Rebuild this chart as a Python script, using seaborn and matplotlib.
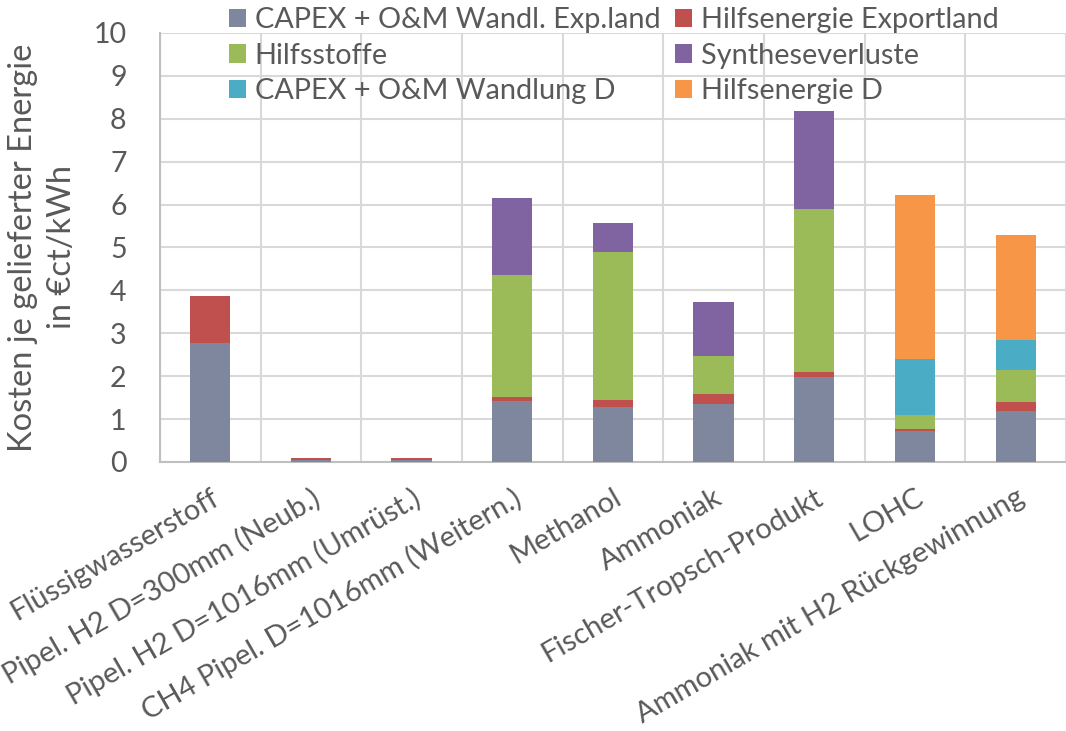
import numpy as np
import pandas as pd
import matplotlib
matplotlib.use("Agg")
import matplotlib.pyplot as plt
from matplotlib.patches import Patch
import seaborn as sns

categories = [
    "Flüssigwasserstoff",
    "Pipel. H2 D=300mm (Neub.)",
    "Pipel. H2 D=1016mm (Umrüst.)",
    "CH4 Pipel. D=1016mm (Weitern.)",
    "Methanol",
    "Ammoniak",
    "Fischer-Tropsch-Produkt",
    "LOHC",
    "Ammoniak mit H2 Rückgewinnung",
]

capex_exp = [2.78, 0.04, 0.04, 1.43, 1.28, 1.35, 1.98, 0.72, 1.19]
hilfsenergie_exp = [1.08, 0.06, 0.06, 0.08, 0.17, 0.23, 0.11, 0.04, 0.20]
hilfsstoffe = [0.0, 0.0, 0.0, 2.85, 3.44, 0.88, 3.81, 0.33, 0.76]
syntheseverluste = [0.0, 0.0, 0.0, 1.79, 0.68, 1.26, 2.27, 0.0, 0.0]
capex_d = [0.0, 0.0, 0.0, 0.0, 0.0, 0.0, 0.0, 1.32, 0.70]
hilfsenergie_d = [0.0, 0.0, 0.0, 0.0, 0.0, 0.0, 0.0, 3.82, 2.43]

series_names = [
    "CAPEX + O&M Wandl. Exp.land",
    "Hilfsenergie Exportland",
    "Hilfsstoffe",
    "Syntheseverluste",
    "CAPEX + O&M Wandlung D",
    "Hilfsenergie D",
]
series_values = [capex_exp, hilfsenergie_exp, hilfsstoffe, syntheseverluste, capex_d, hilfsenergie_d]
colors = ["#7E879D", "#C0504D", "#9BBB59", "#8064A2", "#4BACC6", "#F79646"]

text_color = "#595959"
font = "Lato"

sns.set_theme(style="white")
plt.rcParams["font.family"] = [font, "DejaVu Sans"]

fig = plt.figure(figsize=(10.66, 7.31), dpi=100)
ax = fig.add_axes([0.150, 0.368, 0.850, 0.587])

# stacked bars: draw cumulative totals from the top segment down
df = pd.DataFrame({"Kategorie": categories})
cum = np.cumsum(np.array(series_values), axis=0)
for i in range(len(series_names) - 1, -1, -1):
    df["wert"] = cum[i]
    sns.barplot(data=df, x="Kategorie", y="wert", color=colors[i], saturation=1,
                width=0.4, linewidth=0, ax=ax, zorder=3)

ax.set_xlim(-0.5, len(categories) - 0.5)
ax.set_ylim(0, 10)
ax.set_yticks(range(0, 11))
ax.set_xticks(np.arange(-0.5, len(categories)), minor=True)
ax.grid(False)
ax.grid(True, which="minor", axis="x", color="#D9D9D9", linewidth=1.5, zorder=0)
ax.grid(True, which="major", axis="y", color="#D9D9D9", linewidth=1.5, zorder=0)
ax.tick_params(axis="x", which="both", length=0)
ax.tick_params(axis="y", length=0, labelsize=20.5, labelcolor=text_color, pad=24)

for s in ["top", "right"]:
    ax.spines[s].set_visible(False)
for s in ["left", "bottom"]:
    ax.spines[s].set_color("#BFBFBF")
    ax.spines[s].set_linewidth(1.5)

ax.set_xticks(range(len(categories)))
ax.set_xticklabels(categories, rotation=30, ha="right", rotation_mode="anchor",
                   fontsize=21, color=text_color)
ax.tick_params(axis="x", pad=16)
ax.set_xlabel("")
ax.set_ylabel("Kosten je gelieferter Energie\nin €ct/kWh", fontsize=23.5,
              color=text_color, labelpad=12, linespacing=1.35)

order = [0, 2, 4, 1, 3, 5]
handles = [Patch(facecolor=colors[i], edgecolor="none") for i in order]
labels = [series_names[i] for i in order]
fig.legend(handles, labels, ncol=2, loc="upper left", bbox_to_anchor=(0.190, 1.026),
           frameon=False, fontsize=20.8, labelcolor=text_color, handlelength=0.6,
           handleheight=0.6, handletextpad=0.3, columnspacing=0.5, labelspacing=0.33)

fig.savefig("out.png", dpi=100)
